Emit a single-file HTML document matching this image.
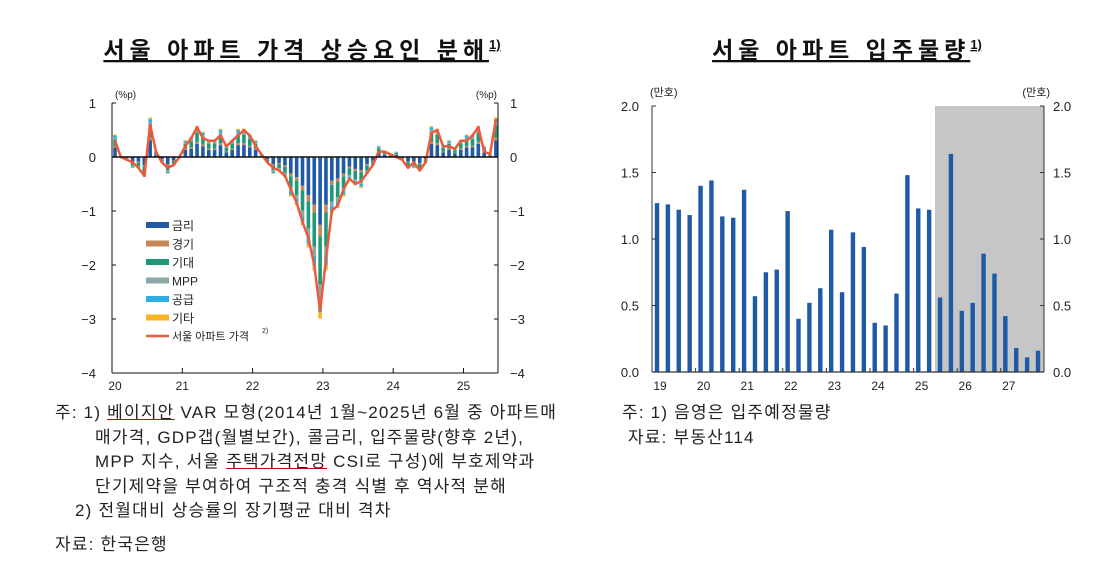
<!DOCTYPE html>
<html><head><meta charset="utf-8"><style>
body{margin:0;background:#fff;width:1096px;height:564px;overflow:hidden;font-family:"Liberation Sans","Noto Sans CJK KR",sans-serif}
svg{position:absolute;left:0;top:0}
.ft{position:absolute;font-size:17px;letter-spacing:1.2px;color:#222;line-height:24.5px;white-space:pre}
</style></head><body>
<svg id="s" width="1096" height="564" xmlns="http://www.w3.org/2000/svg" font-family="Liberation Sans, Noto Sans CJK KR, sans-serif">
<text x="302" y="58" text-anchor="middle" font-size="23" font-weight="bold" fill="#111" letter-spacing="5" text-decoration="underline">서울 아파트 가격 상승요인 분해<tspan font-size="13" dy="-9" letter-spacing="0">1)</tspan></text>
<text x="847" y="58" text-anchor="middle" font-size="23" font-weight="bold" fill="#111" letter-spacing="5" text-decoration="underline">서울 아파트 입주물량<tspan font-size="13" dy="-9" letter-spacing="0">1)</tspan></text>
<g id="L"></g><g id="R"></g>
</svg>
<div class="ft" style="left:55px;top:401px">주: 1) <u style="text-decoration-color:#c00">베이지안</u> VAR 모형(2014년 1월~2025년 6월 중 아파트매</div>
<div class="ft" style="left:95px;top:425.5px">매가격, GDP갭(월별보간), 콜금리, 입주물량(향후 2년),
MPP 지수, 서울 <u style="text-decoration-color:#c00">주택가격전망</u> CSI로 구성)에 부호제약과
단기제약을 부여하여 구조적 충격 식별 후 역사적 분해</div>
<div class="ft" style="left:75px;top:499px">2) 전월대비 상승률의 장기평균 대비 격차</div>
<div class="ft" style="left:55px;top:533px">자료: 한국은행</div>
<div class="ft" style="left:622px;top:401px">주: 1) 음영은 입주예정물량
 자료: 부동산114</div>
<script>
const NS="http://www.w3.org/2000/svg";
function el(p,t,a,txt){const e=document.createElementNS(NS,t);for(const k in a)e.setAttribute(k,a[k]);if(txt!==undefined)e.textContent=txt;p.appendChild(e);return e;}
const L=document.getElementById('L');
const x0=112,x1=498,yz=157,u=54;
const Y=v=>yz-v*u;
const p=[0.3,0.0,-0.05,-0.1,-0.2,-0.35,0.6,0.1,-0.1,-0.2,-0.15,0.0,
0.2,0.35,0.55,0.35,0.3,0.3,0.4,0.2,0.3,0.4,0.5,0.4,
0.2,0.05,-0.1,-0.2,-0.25,-0.35,-0.6,-0.85,-1.2,-1.5,-2.0,-2.85,
-1.9,-1.0,-0.9,-0.6,-0.4,-0.5,-0.45,-0.3,-0.15,0.1,0.1,0.05,
0.0,-0.05,-0.2,-0.1,-0.25,-0.1,0.45,0.5,0.2,0.2,0.15,0.3,
0.3,0.4,0.55,0.1,0.05,0.7];
const dx=5.86;
const cols=['#1f5aa6','#c8875a','#1f9a78','#8aa8a8','#2eaee0','#f5b325'];
const sh=[0.42,0.07,0.3,0.08,0.09,0.04];
p.forEach((v,i)=>{const cx=x0+3+i*dx;let acc=0;const tot=v*1.05+(i%3==0?0.1:0)*(v>=0?1:-1);
 sh.forEach((s,k)=>{const h=tot*s;const a=Y(acc),b=Y(acc+h);el(L,'rect',{x:cx-1.8,y:Math.min(a,b),width:3.6,height:Math.abs(a-b),fill:cols[k]});acc+=h;});});
el(L,'polyline',{points:p.map((v,i)=>(x0+3+i*dx)+','+Y(v)).join(' '),fill:'none',stroke:'#ee5a3a','stroke-width':2.5,'stroke-linejoin':'round'});
el(L,'line',{x1:x0,y1:yz,x2:x1,y2:yz,stroke:'#111','stroke-width':1.5});
el(L,'line',{x1:x0,y1:Y(1),x2:x0,y2:Y(-4),stroke:'#111'});
el(L,'line',{x1:x1,y1:Y(1),x2:x1,y2:Y(-4),stroke:'#111'});
el(L,'line',{x1:x0,y1:Y(-4),x2:x1,y2:Y(-4),stroke:'#111'});
for(let v=1;v>=-4;v--){const y=Y(v);el(L,'line',{x1:x0,y1:y,x2:x0+4,y2:y,stroke:'#111'});el(L,'line',{x1:x1-4,y1:y,x2:x1,y2:y,stroke:'#111'});
 const t=v<0?'\u2212'+(-v):''+v;el(L,'text',{x:96,y:y+5,'text-anchor':'end','font-size':13,fill:'#222'},t);el(L,'text',{x:510,y:y+5,'font-size':13,fill:'#222'},t);}
['20','21','22','23','24','25'].forEach((t,i)=>{const x=x0+i*70.3;el(L,'line',{x1:x,y1:Y(-4),x2:x,y2:Y(-4)-5,stroke:'#111'});el(L,'text',{x:x+(i==0?3:0),y:390,'text-anchor':'middle','font-size':12,fill:'#222'},t);});
el(L,'text',{x:115,y:98,'font-size':10,fill:'#222'},'(%p)');el(L,'text',{x:497,y:98,'font-size':10,fill:'#222','text-anchor':'end'},'(%p)');
const lg=['금리','경기','기대','MPP','공급','기타'];
lg.forEach((t,k)=>{const y=225+k*18.5;el(L,'rect',{x:146,y:y-3,width:23,height:6,fill:cols[k]});el(L,'text',{x:172,y:y+5,'font-size':12,fill:'#222'},t);});
el(L,'line',{x1:146,y1:336,x2:169,y2:336,stroke:'#ee5a3a','stroke-width':2.5});
el(L,'text',{x:172,y:340,'font-size':11,fill:'#222'},'서울 아파트 가격');el(L,'text',{x:262,y:333,'font-size':7,fill:'#222'},'2)');
const R=document.getElementById('R');
const a0=652,a1=1044,rz=372,ru=133;const RY=v=>rz-v*ru;
el(R,'rect',{x:935,y:RY(2),width:a1-935,height:rz-RY(2),fill:'#c6c6c6'});
const d=[1.27,1.26,1.22,1.18,1.40,1.44,1.17,1.16,1.37,0.57,0.75,0.77,1.21,0.40,0.52,0.63,1.07,0.60,1.05,0.94,0.37,0.35,0.59,1.48,1.23,1.22,0.56,1.64,0.46,0.52,0.89,0.74,0.42,0.18,0.11,0.16];
d.forEach((v,i)=>{const cx=657+i*10.886;el(R,'rect',{x:cx-2.2,y:RY(v),width:4.4,height:v*ru,fill:'#1f5aa6'});});
el(R,'line',{x1:a0,y1:RY(2),x2:a0,y2:rz,stroke:'#333'});el(R,'line',{x1:a1,y1:RY(2),x2:a1,y2:rz,stroke:'#333'});
el(R,'line',{x1:a0,y1:rz,x2:a1,y2:rz,stroke:'#333','stroke-width':1.2});
[0,0.5,1,1.5,2].forEach(v=>{const y=RY(v);el(R,'line',{x1:a0,y1:y,x2:a0+4,y2:y,stroke:'#333'});el(R,'line',{x1:a1-4,y1:y,x2:a1,y2:y,stroke:'#333'});
 el(R,'text',{x:639,y:y+5,'text-anchor':'end','font-size':13,fill:'#222'},v.toFixed(1));el(R,'text',{x:1053,y:y+5,'font-size':13,fill:'#222'},v.toFixed(1));});
['19','20','21','22','23','24','25','26','27'].forEach((t,i)=>{const x=652+i*43.6;if(i>0)el(R,'line',{x1:x,y1:rz,x2:x,y2:rz-4,stroke:'#333'});el(R,'text',{x:x+8,y:390,'text-anchor':'middle','font-size':12,fill:'#222'},t);});
el(R,'text',{x:650,y:96,'font-size':11,fill:'#222'},'(만호)');el(R,'text',{x:1050,y:96,'font-size':11,fill:'#222','text-anchor':'end'},'(만호)');
</script>
</body></html>
